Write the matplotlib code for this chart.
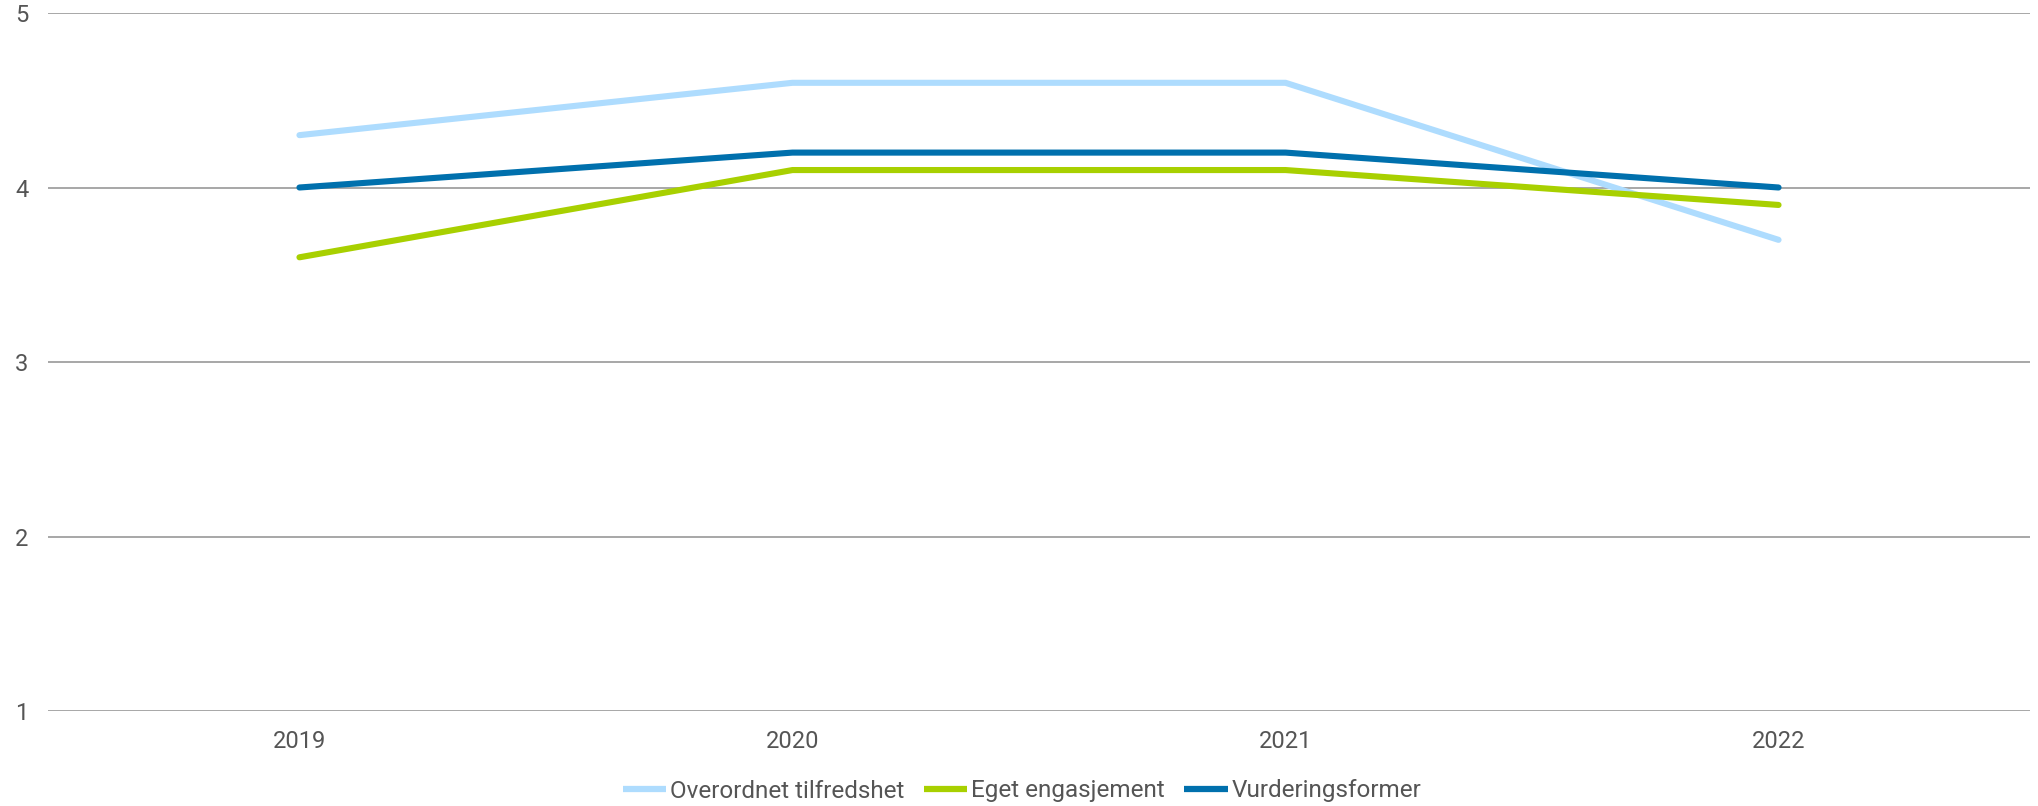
import matplotlib.pyplot as plt
import numpy as np

plt.rcParams['font.family'] = ['Roboto', 'DejaVu Sans']

# Data
years = ['2019', '2020', '2021', '2022']
overordnet = [4.3, 4.6, 4.6, 3.7]
eget = [3.6, 4.1, 4.1, 3.9]
vurdering = [4.0, 4.2, 4.2, 4.0]

series = [
    ('Overordnet tilfredshet', overordnet, '#aedcfe'),
    ('Eget engasjement', eget, '#a8d000'),
    ('Vurderingsformer', vurdering, '#0070ad'),
]

text_color = '#555555'

fig = plt.figure(figsize=(20.38, 8.06), dpi=100)
ax = fig.add_axes([48 / 2038, 1 - 711 / 806, 1982 / 2038, 698 / 806])

x = np.arange(len(years))
for name, vals, col in series:
    ax.plot(x, vals, color=col, linewidth=4.4, solid_capstyle='round',
            solid_joinstyle='round', label=name)

ax.set_xlim(-0.51, len(years) - 0.49)
ax.set_ylim(1, 5)
ax.set_yticks([1, 2, 3, 4, 5])
ax.set_xticks(x)
ax.set_xticklabels(years)

ax.grid(axis='y', color='#a0a0a0', linewidth=1.3)
ax.set_axisbelow(True)
for s in ax.spines.values():
    s.set_visible(False)
ax.tick_params(axis='both', length=0, labelsize=17, colors=text_color)
ax.tick_params(axis='y', pad=14)
ax.tick_params(axis='x', pad=14)

leg = fig.legend(loc='center', bbox_to_anchor=(1022 / 2038, 1 - 791 / 806),
                 ncol=3, frameon=False, fontsize=17.5, handlelength=1.8,
                 handletextpad=0.15, columnspacing=0.8)
for t in leg.get_texts():
    t.set_color(text_color)
for h in leg.get_lines():
    h.set_linewidth(4.5)
    h.set_solid_capstyle('butt')

fig.savefig('out.png', dpi=100)
